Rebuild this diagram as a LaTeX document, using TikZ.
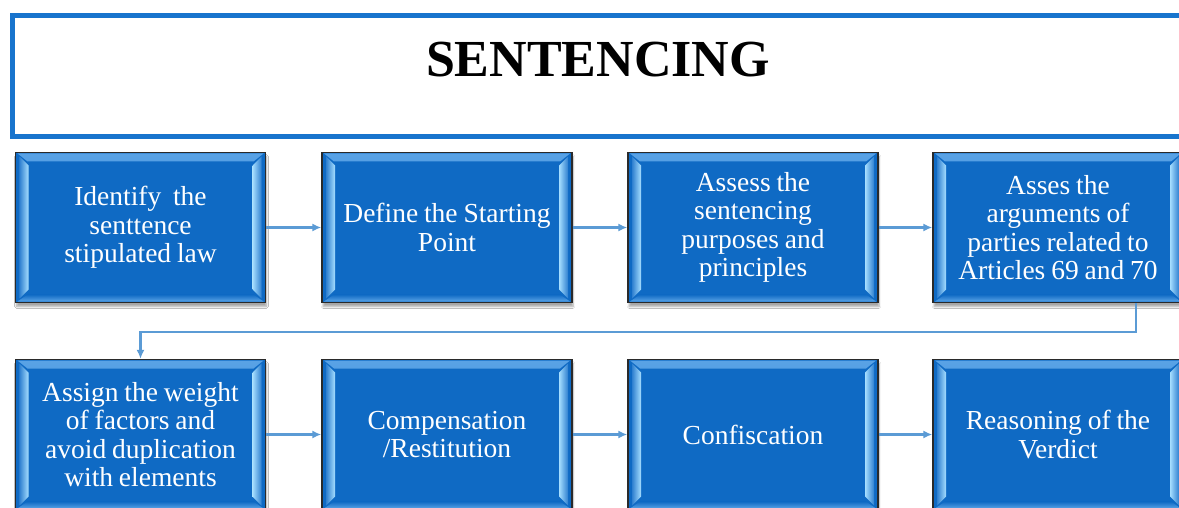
\documentclass[tikz,border=0pt]{standalone}
\usepackage{fontspec}
\setmainfont{Liberation Serif}
\newfontfamily\boxfont[WordSpace=0.85]{Liberation Serif}
\usetikzlibrary{arrows.meta,shadows.blur,calc}
\definecolor{boxblue}{HTML}{0F6AC4}
\definecolor{bevlight}{HTML}{A6DEFF}
\definecolor{bevmid}{HTML}{2F80D0}
\definecolor{bandtop}{HTML}{5AA3E6}
\definecolor{connblue}{HTML}{5B9BD5}
\definecolor{titleblue}{HTML}{1874CD}
\definecolor{edgegrey}{HTML}{2A2A2A}
\tikzset{
  stepbox/.style={
    draw=edgegrey, line width=1.3pt, fill=boxblue,
    minimum width=250pt, minimum height=150pt, inner sep=0pt,
    text=white, align=center,
    font=\boxfont\fontsize{27.5}{28.5}\selectfont,
    blur shadow={shadow xshift=1pt, shadow yshift=-4pt, shadow blur steps=6, shadow opacity=35},
    path picture={
      \shade[top color=bandtop, bottom color=boxblue]
        ([xshift=2pt,yshift=-1pt]path picture bounding box.north west) --
        ([xshift=-2pt,yshift=-1pt]path picture bounding box.north east) --
        ([xshift=-12pt,yshift=-9pt]path picture bounding box.north east) --
        ([xshift=12pt,yshift=-9pt]path picture bounding box.north west) -- cycle;
      \shade[top color=boxblue, bottom color=bandtop]
        ([xshift=2pt,yshift=1pt]path picture bounding box.south west) --
        ([xshift=-2pt,yshift=1pt]path picture bounding box.south east) --
        ([xshift=-12pt,yshift=8pt]path picture bounding box.south east) --
        ([xshift=12pt,yshift=8pt]path picture bounding box.south west) -- cycle;
      \shade[left color=bevmid, right color=bevlight]
        ([xshift=4pt,yshift=-4pt]path picture bounding box.north west) --
        ([xshift=13pt,yshift=-13pt]path picture bounding box.north west) --
        ([xshift=13pt,yshift=13pt]path picture bounding box.south west) --
        ([xshift=4pt,yshift=4pt]path picture bounding box.south west) -- cycle;
      \shade[left color=bevlight, right color=bevmid]
        ([xshift=-4pt,yshift=-4pt]path picture bounding box.north east) --
        ([xshift=-13pt,yshift=-13pt]path picture bounding box.north east) --
        ([xshift=-13pt,yshift=13pt]path picture bounding box.south east) --
        ([xshift=-4pt,yshift=4pt]path picture bounding box.south east) -- cycle;
    }
  },
  conn/.style={draw=connblue, line width=2.4pt, -{Latex[length=9pt,width=8pt]}},
  titlebox/.style={draw=titleblue, line width=5pt, fill=white}
}
\begin{document}
\begin{tikzpicture}[x=1pt,y=-1pt]
\useasboundingbox (0,0) rectangle (1179,508);
\clip (0,0) rectangle (1179,508);
\fill[white] (0,0) rectangle (1179,508);
\draw[titlebox] (12.5,15.5) rectangle (1190,136.5);
\node[anchor=base, font=\fontsize{52}{56}\selectfont\bfseries] (title) at (598,77) {SENTENCING};

\node[stepbox] (b1) at (140.5,227.5) {Identify\ \ the\\senttence\\stipulated law};
\node[stepbox] (b2) at (447,227.5) {Define the Starting\\Point};
\node[stepbox] (b3) at (753,227.5) {Assess the\\sentencing\\purposes and\\principles};
\node[stepbox] (b4) at (1058,227.5) {Asses the\\arguments of\\parties related to\\Articles 69 and 70};

\node[stepbox] (b5) at (140.5,434.5) {Assign the weight\\of factors and\\avoid duplication\\with elements};
\node[stepbox] (b6) at (447,434.5) {Compensation\\/Restitution};
\node[stepbox] (b7) at (753,434.5) {Confiscation};
\node[stepbox] (b8) at (1058,434.5) {Reasoning of the\\Verdict};

\draw[conn] (b1) -- (b2);
\draw[conn] (b2) -- (b3);
\draw[conn] (b3) -- (b4);
\draw[conn] ([xshift=78pt]b4.south) -- ++(0,29) -| (b5.north);
\draw[conn] (b5) -- (b6);
\draw[conn] (b6) -- (b7);
\draw[conn] (b7) -- (b8);
\end{tikzpicture}
\end{document}
